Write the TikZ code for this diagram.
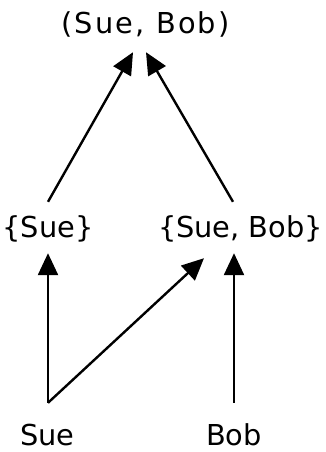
\documentclass[tikz,border=0pt]{standalone}
\usepackage{fontspec}
\setmainfont{DejaVu Sans}
\usetikzlibrary{arrows.meta}
\begin{document}
\begin{tikzpicture}[x=1pt,y=-1pt,
  lbl/.style={inner sep=0pt,anchor=base,text height=20pt,text depth=7pt,font=\fontsize{28.8}{32}\selectfont},
  arr/.style={line width=2.4pt,-{Triangle[length=22pt,width=20pt]}}]
\useasboundingbox (0,0) rectangle (325,452);
\node[lbl] (top) at (145.5,34) {\addfontfeature{LetterSpace=7.5}(Sue, Bob)};
\node[lbl] (s1) at (48,237) {\{Sue\}};
\node[lbl] (sb) at (240.5,237) {\{Sue, Bob\}};
\node[lbl] (sue) at (47.5,445) {Sue};
\node[lbl] (bob) at (234,445) {Bob};
\draw[arr] ([xshift=0pt,yshift=15pt]s1.north) -- ([xshift=-12.5pt,yshift=-11pt]top.south);
\draw[arr] ([xshift=-7.5pt,yshift=15pt]sb.north) -- ([xshift=0.5pt,yshift=-11pt]top.south);
\draw[arr] ([xshift=0.5pt,yshift=22pt]sue.north) -- ([yshift=-9pt]s1.south);
\draw[arr,line join=round] ([xshift=0.5pt,yshift=22pt]sue.north) -- ([xshift=-36.5pt,yshift=-14pt]sb.south);
\draw[arr] ([yshift=22pt]bob.north) -- ([xshift=-6.5pt,yshift=-9pt]sb.south);
\end{tikzpicture}
\end{document}
